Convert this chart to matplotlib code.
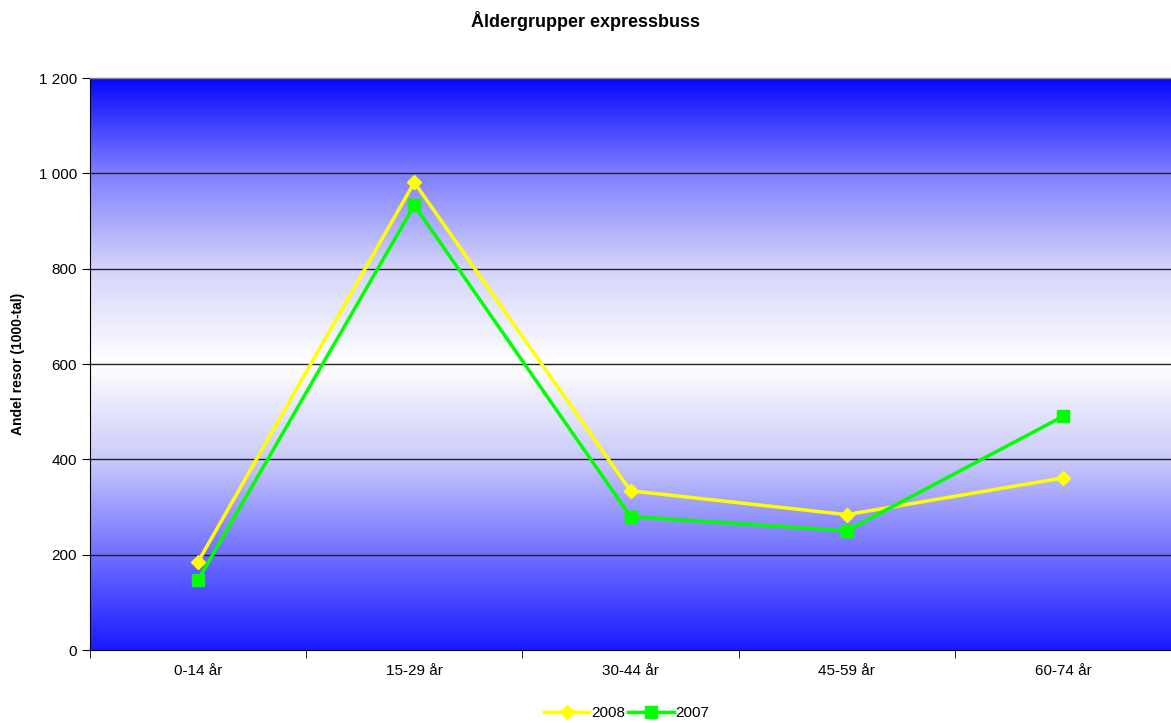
import matplotlib
matplotlib.use("Agg")
import matplotlib.pyplot as plt
import matplotlib.ticker as mticker
import numpy as np
from matplotlib.colors import LinearSegmentedColormap

plt.rcParams['font.family'] = ['Liberation Sans', 'DejaVu Sans']

categories = ["0-14 år", "15-29 år", "30-44 år", "45-59 år", "60-74 år"]
values_2008 = [185, 981, 334, 284, 361]
values_2007 = [147, 933, 280, 250, 490]
y_ticks = [0, 200, 400, 600, 800, 1000, 1200]

fig = plt.figure(figsize=(11.71, 7.23), dpi=100)
ax = fig.add_axes([90 / 1171, 73 / 723, 1081 / 1171, 572 / 723])

# blue-white-blue background gradient
cmap = LinearSegmentedColormap.from_list("bg", [
    (0.0, "#1a1aff"), (1 / 6, "#7070ff"), (2 / 6, "#cacafa"),
    (0.5, "#ffffff"), (4 / 6, "#d4d4fa"), (5 / 6, "#8080ff"), (1.0, "#0808ff")])
grad = np.linspace(0, 1, 256).reshape(-1, 1)
ax.imshow(grad, aspect="auto", cmap=cmap, extent=[-0.5, 4.5, 0, 1200],
          origin="lower", zorder=0)

x = np.arange(len(categories))
ax.plot(x, values_2008, color="#ffff00", lw=2.5, marker="D", ms=7,
        label="2008", zorder=3)
ax.plot(x, values_2007, color="#00ff00", lw=2.5, marker="s", ms=8,
        label="2007", zorder=3)

ax.set_xlim(-0.5, 4.5)
ax.set_ylim(0, 1200)
ax.set_yticks(y_ticks)
ax.yaxis.set_major_formatter(mticker.FuncFormatter(
    lambda v, p: f"{int(v):,}".replace(",", " ")))
for yv in y_ticks[1:-1]:
    ax.axhline(yv, color="#202030", lw=1.0, zorder=1)

ax.set_xticks(x)
ax.set_xticklabels(categories)
ax.set_xticks(np.arange(-0.5, 5.0, 1.0), minor=True)
ax.tick_params(axis="x", which="major", length=0, pad=10, labelsize=11)
ax.tick_params(axis="x", which="minor", length=6, direction="out")
ax.tick_params(axis="y", length=6, direction="out", labelsize=11)

ax.spines["right"].set_visible(False)
ax.spines["top"].set_color("#808080")
ax.spines["top"].set_linewidth(1.0)

ax.set_ylabel("Andel resor (1000-tal)", fontsize=10, fontweight="bold", labelpad=10)
fig.suptitle("Åldergrupper expressbuss", fontsize=13, fontweight="bold", y=0.985)

fig.legend(loc="lower center", ncol=2, frameon=False, fontsize=11,
           bbox_to_anchor=(0.535, -0.015), handlelength=3, columnspacing=0.2,
           handletextpad=0.1)

fig.savefig("out.png", dpi=100)
